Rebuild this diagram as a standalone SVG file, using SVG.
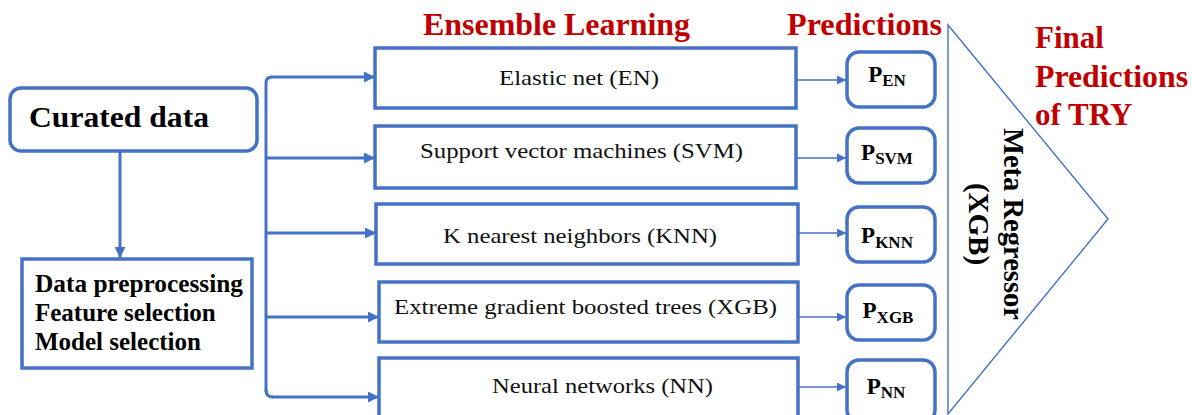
<svg xmlns="http://www.w3.org/2000/svg" width="1192" height="415" viewBox="0 0 1192 415">
  <defs>
    <style>
      .box { fill: #ffffff; stroke: #4472C4; stroke-width: 3.5; }
      .link { fill: none; stroke: #4472C4; stroke-width: 3; }
      .thin { fill: none; stroke: #4472C4; stroke-width: 1.5; }
      .title { font-family: "Liberation Serif", "Times New Roman", serif; font-weight: bold; font-size: 31px; fill: #C00000; }
      .bold { font-family: "Liberation Serif", "Times New Roman", serif; font-weight: bold; fill: #000000; }
      .model { font-family: "Liberation Serif", "Times New Roman", serif; font-size: 22px; fill: #111111; }
      .pred { font-family: "Liberation Serif", "Times New Roman", serif; font-weight: bold; font-size: 23px; fill: #000000; }
      .sub { font-size: 17px; }
    </style>
    <marker id="arrowBig" viewBox="0 0 10 10" refX="10" refY="5" markerWidth="11" markerHeight="11" markerUnits="userSpaceOnUse" orient="auto">
      <path d="M0,0 L10,5 L0,10 Z" fill="#4472C4"/>
    </marker>
    <marker id="arrowSmall" viewBox="0 0 10 10" refX="10" refY="5" markerWidth="10" markerHeight="9" markerUnits="userSpaceOnUse" orient="auto">
      <path d="M0,0 L10,5 L0,10 Z" fill="#4472C4"/>
    </marker>
  </defs>

  <rect width="1192" height="415" fill="#ffffff"/>

  <!-- section headings -->
  <text class="title" x="423" y="35" textLength="267" lengthAdjust="spacingAndGlyphs">Ensemble Learning</text>
  <text class="title" x="787" y="35" textLength="155" lengthAdjust="spacingAndGlyphs">Predictions</text>
  <g id="final-predictions">
    <text class="title" x="1035" y="48">Final</text>
    <text class="title" x="1035" y="87" textLength="153" lengthAdjust="spacingAndGlyphs">Predictions</text>
    <text class="title" x="1035" y="125">of TRY</text>
  </g>

  <!-- connectors -->
  <g id="connectors">
    <line class="link" x1="120" y1="151" x2="120" y2="258" marker-end="url(#arrowBig)"/>
    <path class="link" d="M266,392 V83 Q266,77 272,77"/>
    <path class="link" d="M266,390 Q266,397 273,397"/>
    <line class="link" x1="271" y1="77" x2="375" y2="77" marker-end="url(#arrowBig)"/>
    <line class="link" x1="266" y1="158" x2="375" y2="158" marker-end="url(#arrowBig)"/>
    <line class="link" x1="266" y1="233" x2="376" y2="233" marker-end="url(#arrowBig)"/>
    <line class="link" x1="266" y1="317" x2="379" y2="317" marker-end="url(#arrowBig)"/>
    <line class="link" x1="272" y1="397" x2="379" y2="397" marker-end="url(#arrowBig)"/>

    <line class="thin" x1="797" y1="80" x2="846" y2="80" marker-end="url(#arrowSmall)"/>
    <line class="thin" x1="797" y1="158" x2="846" y2="158" marker-end="url(#arrowSmall)"/>
    <line class="thin" x1="799" y1="233" x2="846" y2="233" marker-end="url(#arrowSmall)"/>
    <line class="thin" x1="799" y1="317" x2="846" y2="317" marker-end="url(#arrowSmall)"/>
    <line class="thin" x1="799" y1="387" x2="846" y2="387" marker-end="url(#arrowSmall)"/>
  </g>

  <!-- input data -->
  <g id="curated-data">
    <rect class="box" x="10" y="88" width="247" height="63" rx="11"/>
    <text class="bold" x="29" y="127" font-size="30" textLength="180" lengthAdjust="spacingAndGlyphs">Curated data</text>
  </g>

  <g id="preprocessing">
    <rect class="box" x="22" y="259" width="230" height="109"/>
    <text class="bold" x="35" y="292" font-size="25" textLength="208" lengthAdjust="spacingAndGlyphs">Data preprocessing</text>
    <text class="bold" x="35" y="321" font-size="25">Feature selection</text>
    <text class="bold" x="35" y="350" font-size="25">Model selection</text>
  </g>

  <!-- base learners -->
  <g id="model-en">
    <rect class="box" x="375" y="48" width="421" height="60"/>
    <text class="model" x="499" y="85" textLength="160" lengthAdjust="spacingAndGlyphs">Elastic net (EN)</text>
  </g>
  <g id="model-svm">
    <rect class="box" x="375" y="126" width="421" height="62"/>
    <text class="model" x="420" y="158" textLength="323" lengthAdjust="spacingAndGlyphs">Support vector machines (SVM)</text>
  </g>
  <g id="model-knn">
    <rect class="box" x="376" y="204" width="422" height="60"/>
    <text class="model" x="443" y="243" textLength="274" lengthAdjust="spacingAndGlyphs">K nearest neighbors (KNN)</text>
  </g>
  <g id="model-xgb">
    <rect class="box" x="379" y="282" width="419" height="60"/>
    <text class="model" x="394" y="314" textLength="383" lengthAdjust="spacingAndGlyphs">Extreme gradient boosted trees (XGB)</text>
  </g>
  <g id="model-nn">
    <rect class="box" x="379" y="358" width="419" height="62"/>
    <text class="model" x="492" y="393" textLength="221" lengthAdjust="spacingAndGlyphs">Neural networks (NN)</text>
  </g>

  <!-- base predictions -->
  <g id="pred-en">
    <rect class="box" x="847" y="52" width="88" height="55" rx="12"/>
    <text class="pred" x="887" y="82" text-anchor="middle">P<tspan class="sub" dy="4">EN</tspan></text>
  </g>
  <g id="pred-svm">
    <rect class="box" x="847" y="128" width="88" height="55" rx="12"/>
    <text class="pred" x="887" y="160" text-anchor="middle">P<tspan class="sub" dy="4">SVM</tspan></text>
  </g>
  <g id="pred-knn">
    <rect class="box" x="847" y="207" width="88" height="55" rx="12"/>
    <text class="pred" x="887" y="243" text-anchor="middle">P<tspan class="sub" dy="5">KNN</tspan></text>
  </g>
  <g id="pred-xgb">
    <rect class="box" x="847" y="285" width="88" height="55" rx="12"/>
    <text class="pred" x="888" y="318" text-anchor="middle">P<tspan class="sub" dy="5">XGB</tspan></text>
  </g>
  <g id="pred-nn">
    <rect class="box" x="847" y="360" width="88" height="62" rx="12"/>
    <text class="pred" x="886" y="394" text-anchor="middle">P<tspan class="sub" dy="4">NN</tspan></text>
  </g>

  <!-- stacking meta learner -->
  <g id="meta-regressor">
    <polygon points="948,25 1108,219 948,414" fill="none" stroke="#4472C4" stroke-width="1.4"/>
    <g transform="translate(1004,224) rotate(90)">
      <text class="bold" x="0" y="0" font-size="29" text-anchor="middle" textLength="192" lengthAdjust="spacingAndGlyphs">Meta Regressor</text>
      <text class="bold" x="0" y="35" font-size="29" text-anchor="middle">(XGB)</text>
    </g>
  </g>
</svg>
